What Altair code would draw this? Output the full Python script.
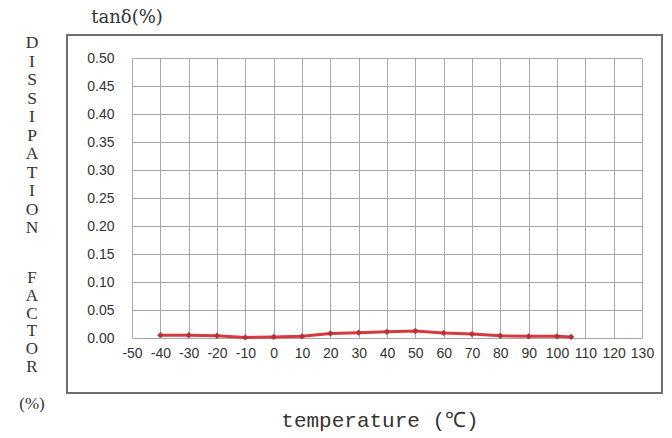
import altair as alt
import pandas as pd

temps = [-40, -30, -20, -10, 0, 10, 20, 30, 40, 50, 60, 70, 80, 90, 100, 105]
tan_delta = [0.005, 0.005, 0.004, 0.001, 0.002, 0.003, 0.008, 0.0095, 0.011, 0.0125, 0.009, 0.007, 0.004, 0.003, 0.003, 0.002]
x_ticks = list(range(-50, 131, 10))
y_ticks = [0, 0.05, 0.10, 0.15, 0.20, 0.25, 0.30, 0.35, 0.40, 0.45, 0.50]

df = pd.DataFrame({"t": temps, "v": tan_delta})

W, H = 510, 280

xscale = alt.Scale(domain=[-50, 130], nice=False, zero=False)
yscale = alt.Scale(domain=[0, 0.5], nice=False)

xaxis = alt.Axis(values=x_ticks, title=None, grid=True, gridColor="#a8a8a8", domain=False, ticks=False,
                 labelFont="Liberation Sans", labelFontSize=14, labelColor="#333", labelPadding=8,
                 labelFlush=False, labelOverlap=False, labelExpr="'' + datum.value")
yaxis = alt.Axis(values=y_ticks, title=None, grid=True, gridColor="#a8a8a8", domain=False, ticks=False,
                 format=".2f", labelFont="Liberation Sans", labelFontSize=14, labelColor="#333",
                 labelPadding=18, labelOverlap=False)

base = alt.Chart(df)

line = base.mark_line(color="#d43a40", strokeWidth=3).encode(
    x=alt.X("t:Q", scale=xscale, axis=xaxis),
    y=alt.Y("v:Q", scale=yscale, axis=yaxis),
)
pts = base.mark_point(shape="diamond", filled=True, color="#b8303a", size=40, opacity=1).encode(
    x=alt.X("t:Q", scale=xscale, axis=xaxis),
    y=alt.Y("v:Q", scale=yscale, axis=yaxis),
)

one = pd.DataFrame({"a": [0]})

frame = alt.Chart(one).mark_rect(fill=None, stroke="#6e6e6e", strokeWidth=2).encode(
    x=alt.value(-65), x2=alt.value(530), y=alt.value(-23), y2=alt.value(335)
)

top_title = alt.Chart(one).mark_text(
    text="tanδ(%)", font="DejaVu Serif", fontSize=18, color="#333", align="center", baseline="middle"
).encode(x=alt.value(-5), y=alt.value(-40))

x_title = alt.Chart(one).mark_text(
    text="temperature (℃)", font="Liberation Mono", fontSize=21, color="#333", align="center", baseline="middle"
).encode(x=alt.value(248), y=alt.value(363))

word1 = "\n".join("DISSIPATION")
word2 = "\n".join("FACTOR")
ytitle1 = alt.Chart(one).mark_text(
    text=word1, lineBreak="\n", lineHeight=18.5, font="Liberation Serif", fontSize=17.5, color="#333",
    align="center", baseline="alphabetic"
).encode(x=alt.value(-100), y=alt.value(-10))
ytitle2 = alt.Chart(one).mark_text(
    text=word2, lineBreak="\n", lineHeight=17.8, font="Liberation Serif", fontSize=17, color="#333",
    align="center", baseline="alphabetic"
).encode(x=alt.value(-100), y=alt.value(225))
ytitle3 = alt.Chart(one).mark_text(
    text="(%)", font="Liberation Serif", fontSize=17, color="#333",
    align="center", baseline="alphabetic"
).encode(x=alt.value(-100), y=alt.value(351))

chart = alt.layer(frame, line, pts, top_title, x_title, ytitle1, ytitle2, ytitle3).properties(
    width=W, height=H,
    autosize=alt.AutoSizeParams(type="none"),
    padding={"left": 132, "top": 58, "right": 30, "bottom": 100},
    background="white",
).configure_view(stroke=None)

chart.save("out.html", embed_options={"renderer": "svg", "actions": False})
